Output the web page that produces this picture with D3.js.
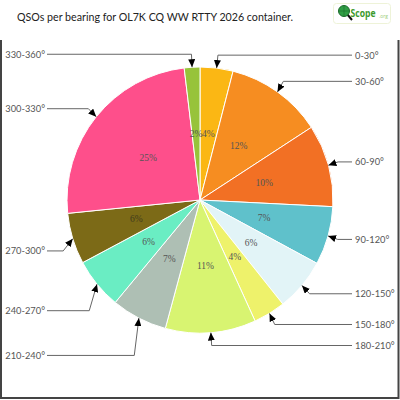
<!DOCTYPE html>
<html><head><meta charset="utf-8">
<script src="https://cdn.jsdelivr.net/npm/d3@7"></script>
<style>html,body{margin:0;padding:0;background:#fff;}svg{display:block;}</style>
</head><body>
<svg id="chart" width="400" height="400"></svg>
<script>
const categories = ["0-30°","30-60°","60-90°","90-120°","120-150°","150-180°","180-210°","210-240°","240-270°","270-300°","300-330°","330-360°"];
const shares = [4.0, 11.8, 10.0, 7.1, 6.4, 3.9, 11.0, 6.8, 6.2, 6.2, 24.7, 1.9];
const colors = ["#fbb714","#f68d21","#f27024","#5fc1cb","#e2f4f7","#eef26b","#d8f471","#aebfb4","#6aedc3","#7c6a17","#fe4f8b","#97c33a"];
const title = "QSOs per bearing for OL7K CQ WW RTTY 2026 container.";

const svg = d3.select("#chart");
const cx = 200, cy = 200, R = 133;
const labelFont = "Lato, 'Open Sans', sans-serif";

// frame
svg.append("path").attr("d","M1,40 V398 H398.5 V40").attr("fill","none").attr("stroke","#444").attr("stroke-width",2);

// title
svg.append("text").attr("x",17).attr("y",21).attr("font-family",labelFont)
  .attr("font-size",11.5).attr("fill","#222")
  .attr("textLength",276).attr("lengthAdjust","spacingAndGlyphs").text(title);

// logo
const logo = svg.append("g");
logo.append("rect").attr("x",333.5).attr("y",3.5).attr("width",57).attr("height",20).attr("rx",3)
  .attr("fill","#fff").attr("stroke","#eef3d8");
logo.append("line").attr("x1",347).attr("y1",14).attr("x2",352).attr("y2",20).attr("stroke","#111").attr("stroke-width",2);
logo.append("circle").attr("cx",344).attr("cy",11).attr("r",5.5).attr("fill","#2f9e44").attr("stroke","#1d6b2b").attr("stroke-width",1);
logo.append("path").attr("d","M338.5,11 H349.5 M344,5.5 V16.5").attr("stroke","#1d6b2b").attr("stroke-width",0.6);
logo.append("text").attr("x",350.5).attr("y",16.5).attr("font-family","'Open Sans', sans-serif").attr("font-weight","bold")
  .attr("font-size",10).attr("fill","#3c9a2c")
  .attr("textLength",25).attr("lengthAdjust","spacingAndGlyphs").text("Scope");
logo.append("text").attr("x",379).attr("y",18).attr("font-family","'Open Sans', sans-serif")
  .attr("font-size",5).attr("fill","#9ccc7a").text(".org");

// arrow marker
svg.append("defs").append("marker").attr("id","arr").attr("markerUnits","userSpaceOnUse")
  .attr("markerWidth",8).attr("markerHeight",7).attr("refX",8).attr("refY",3.5).attr("orient","auto")
  .append("path").attr("d","M0,0 L8,3.5 L0,7 Z").attr("fill","#000");

const data = categories.map((c,i)=>({cat:c, v:shares[i], color:colors[i]}));
const pie = d3.pie().sort(null).value(d=>d.v);
const arcs = pie(data);
const arc = d3.arc().innerRadius(0).outerRadius(R);
const inner = d3.arc().innerRadius(R/2).outerRadius(R/2);

const g = svg.append("g").attr("transform",`translate(${cx},${cy})`);
g.selectAll("path.slice").data(arcs).join("path").attr("class","slice")
  .attr("d",arc).attr("fill",d=>d.data.color).attr("stroke","#fff").attr("stroke-width",1);

g.selectAll("text.pct").data(arcs).join("text").attr("class","pct")
  .attr("transform",d=>`translate(${inner.centroid(d)})`)
  .attr("text-anchor","middle").attr("dominant-baseline","central")
  .attr("font-family","'Liberation Serif', serif").attr("font-size",9.5)
  .attr("fill",d=>d.data.cat==="270-300°" ? "#3f3a1c" : "#555")
  .text(d=>Math.round(d.data.v)+"%");

// outside labels with connectors
const lab = svg.append("g");
arcs.forEach(d=>{
  const a = (d.startAngle+d.endAngle)/2;
  const s = Math.sin(a), c = Math.cos(a);
  const right = s >= 0;
  const tip = [cx + R*s, cy - R*c];
  const K = (!right && c < 0) ? 175 : 146;
  const ly = cy - K*c;
  const bx = cx + (R+10)*s;
  const startX = right ? 352 : 47;
  const path = d3.path();
  path.moveTo(startX, ly);
  path.lineTo(bx, ly);
  path.lineTo(tip[0], tip[1]);
  lab.append("path").attr("d",path.toString()).attr("fill","none").attr("stroke","#666").attr("stroke-width",1)
    .attr("marker-end","url(#arr)");
  lab.append("text").attr("x", right ? 355 : 45).attr("y", ly).attr("dominant-baseline","central")
    .attr("text-anchor", right ? "start" : "end")
    .attr("font-family",labelFont).attr("font-size",9.3).attr("fill","#555")
    .text(d.data.cat);
});
</script>
</body></html>
